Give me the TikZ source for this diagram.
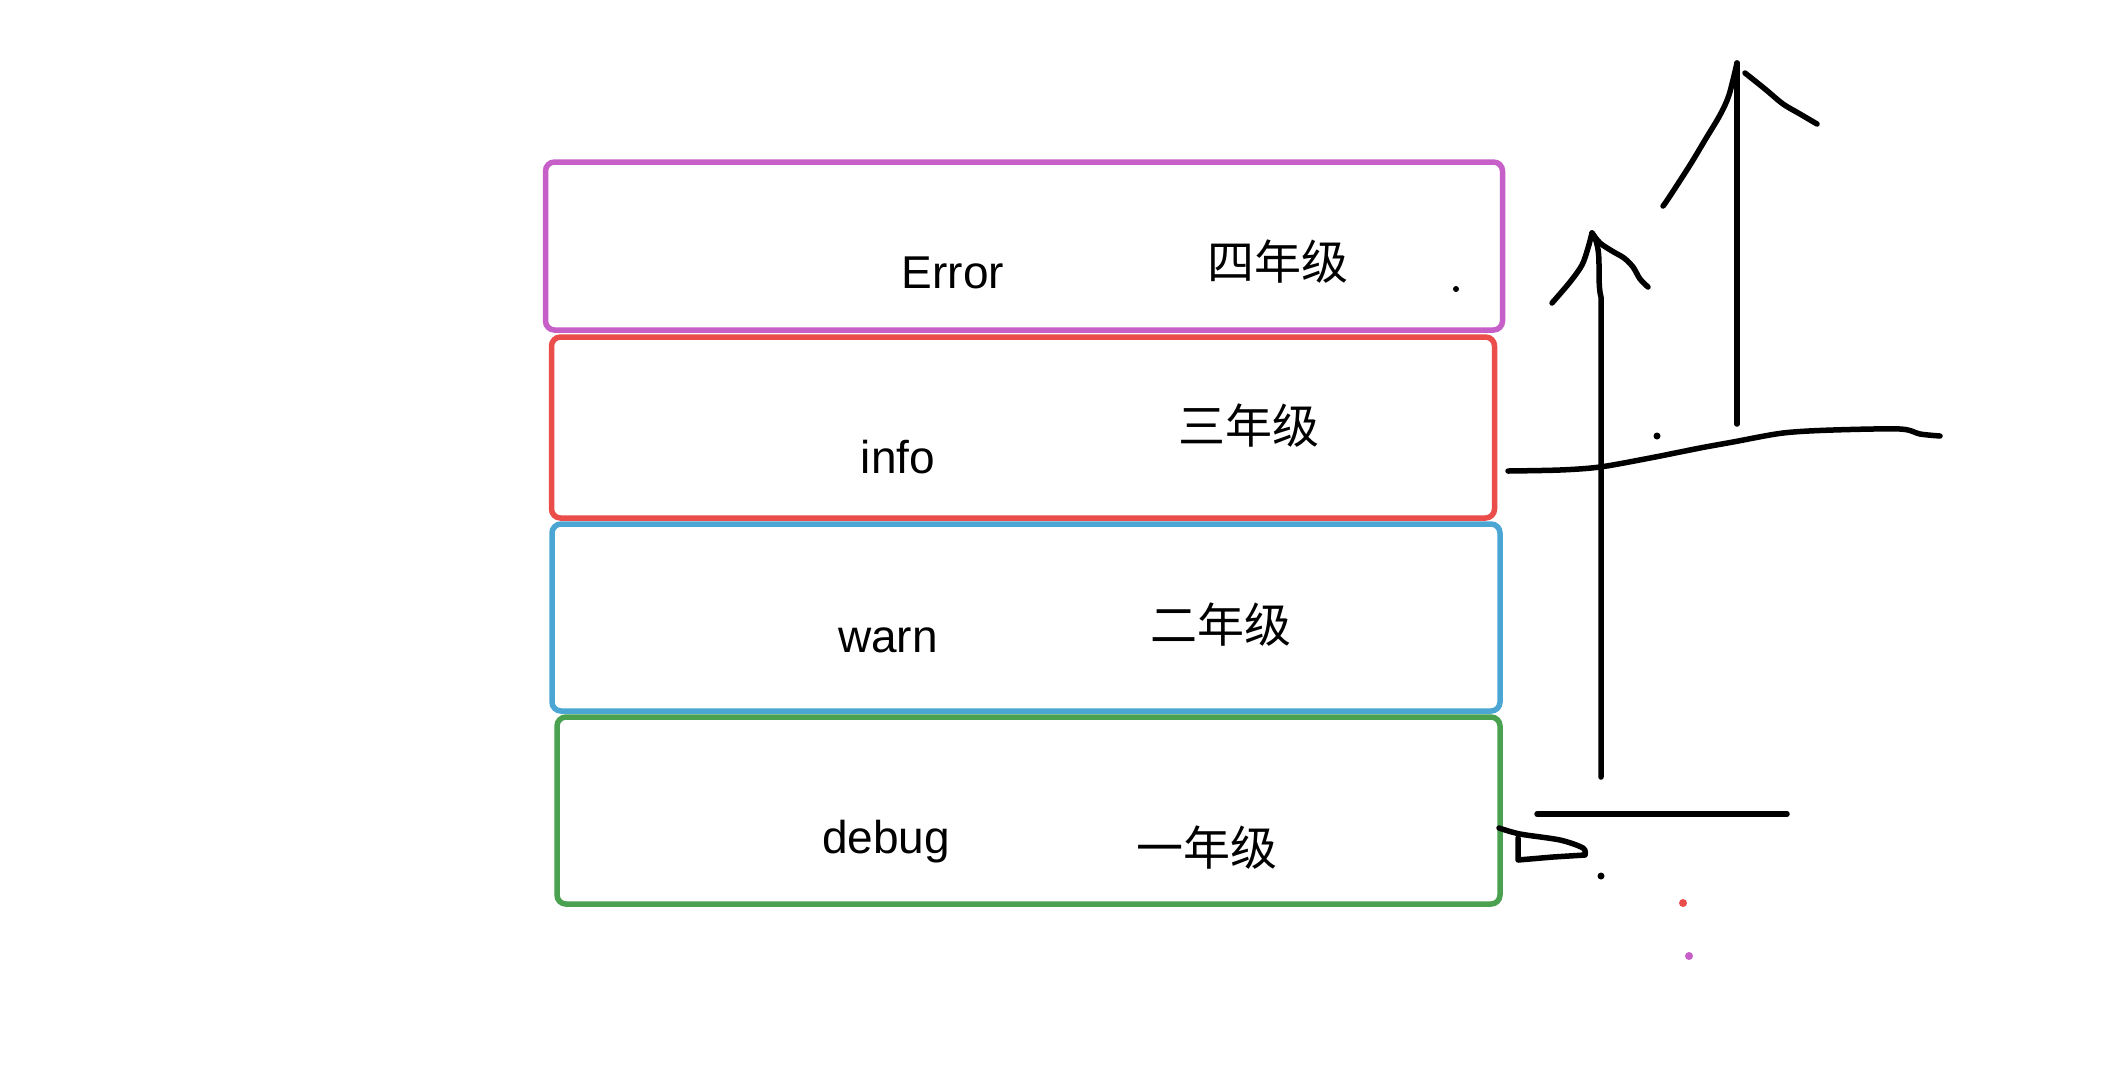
\documentclass[tikz,border=0pt]{standalone}
\usepackage{fontspec}
\setmainfont{Liberation Sans}
\newfontfamily\cjk{Noto Sans CJK SC}
\definecolor{purc}{HTML}{C660C8}
\definecolor{redc}{HTML}{EB4D4B}
\definecolor{bluec}{HTML}{4BA6D3}
\definecolor{greenc}{HTML}{4AA150}
\begin{document}
\begin{tikzpicture}[x=1pt,y=-1pt,
  box/.style={draw=#1, line width=5.5pt, rounded corners=9pt, inner sep=0pt},
  lat/.style={font=\fontsize{46}{55}\selectfont, anchor=base, inner sep=0pt},
  han/.style={font=\cjk\fontsize{47}{56}\selectfont, anchor=center, inner sep=0pt},
  ink/.style={line width=5.5pt, line cap=round, line join=round},
]
\useasboundingbox[fill=white] (0,0) rectangle (2106,1072);
% boxes
\node[box=purc,   minimum width=957pt, minimum height=168pt] (err)   at (1024,246) {};
\node[box=redc,   minimum width=943pt, minimum height=181pt] (info)  at (1023,427.5) {};
\node[box=bluec,  minimum width=948pt, minimum height=187pt] (warn)  at (1026,617.5) {};
\node[box=greenc, minimum width=943pt, minimum height=187pt] (debug) at (1028.5,810.5) {};
% labels
\node[lat] (terr)   at (953,288) {Error};
\node[han] (cerr)   at (1278,262) {四年级};
\node[lat] (tinfo)  at (898,473) {info};
\node[han] (cinfo)  at (1249,426) {三年级};
\node[lat] (twarn)  at (888,652) {warn};
\node[han] (cwarn)  at (1221,625) {二年级};
\node[lat] (tdebug) at (886,853) {debug};
\node[han] (cdebug) at (1207,848) {一年级};
% tall arrow
\draw[ink] (1737,424) -- (1737,63);
\draw[ink] plot[smooth] coordinates {(1663,206) (1668,199) (1690,165) (1705,140) (1720,115) (1729,95) (1737,63)};
\draw[ink] plot[smooth] coordinates {(1745,73) (1765,89) (1783,104) (1800,114) (1817,124)};
% small arrow
\draw[ink] (1601,777) -- (1601,297) .. controls (1599,290) and (1599,280) .. (1599,265) .. controls (1599,250) and (1597,240) .. (1592,233);
\draw[ink] plot[smooth] coordinates {(1552,303) (1570,282) (1582,265) (1588,248) (1592,233)};
\draw[ink] plot[smooth] coordinates {(1592,233) (1600,243) (1612,251) (1624,258) (1633,267) (1640,279) (1648,287)};
% wavy line
\draw[ink] plot[smooth] coordinates {(1508,471) (1560,470) (1600,467) (1650,458) (1700,448) (1733,442) (1783,433) (1833,430) (1900,429) (1920,434) (1940,436)};
% bottom line and squiggle
\draw[ink] (1537,814) -- (1787,814);
\draw[ink] plot[smooth] coordinates {(1499,828) (1520,834) (1560,840) (1583,848) (1585,855)} -- (1553,857) -- (1518,860) -- (1518,838);
% dots
\fill (1456,289) circle (3pt);
\fill (1657,436) circle (3.5pt);
\fill (1601,876) circle (3.5pt);
\fill[redc] (1683,903) circle (4pt);
\fill[purc] (1689,956) circle (4pt);
\end{tikzpicture}
\end{document}
